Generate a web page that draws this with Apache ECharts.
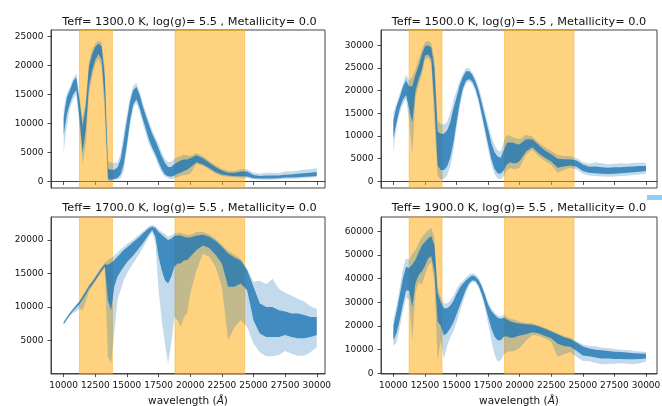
<!DOCTYPE html>
<html><head><meta charset="utf-8">
<script src="https://cdn.jsdelivr.net/npm/echarts@6/dist/echarts.min.js"></script>
<style>html,body{margin:0;padding:0;background:#fff}#c{width:662px;height:406px}</style>
</head><body><div id="c"></div>
<script>
// wavelength grid (Angstrom)
const WL = [10000,10250,10500,10750,11000,11250,11500,11750,12000,12250,12500,12750,13000,13250,13500,13750,14000,14250,14500,14750,15000,15250,15500,15750,16000,16250,16500,16750,17000,17250,17500,17750,18000,18250,18500,18750,19000,19250,19500,19750,20000,
  20500,21000,21500,22000,22500,23000,23500,24000,24500,25000,25500,26000,26500,27000,27500,28000,28500,29000,29500,30000];

// Teff 1300 K: outer envelope low/high and dense core low/high
const T1300_lo  = [5000,9500,12700,14200,15000,9500,3000,6500,15000,18000,20300,21200,19800,11500,100,50,200,350,600,1800,5500,9700,12700,13600,12000,10000,8200,6400,5200,4100,2700,1500,850,600,350,550,750,950,1100,1150,1300, 3000,2700,2000,1300,950,800,700,650,600,350,300,300,300,350,450,450,500,600,650,750];
const T1300_clo = [8000,11500,13500,15000,15800,11000,5000,9000,16500,19200,21000,22000,21000,14000,400,300,400,600,1200,3000,6500,10500,13300,14200,12700,10800,9000,7200,5800,4700,3300,2100,1200,900,800,1000,1300,1500,1800,2000,2400, 3300,2900,2300,1600,1200,1000,900,900,850,550,500,500,500,550,650,650,700,800,850,950];
const T1300_chi = [11000,14500,15800,17300,18000,14000,9500,13000,19800,22000,23200,23800,23300,18000,2200,2000,2000,2400,3800,7000,10500,13800,15800,16300,15000,13000,11300,9700,8200,7000,5700,4300,3200,2500,2500,3000,3300,3600,3800,3800,4000, 4500,4000,3200,2500,1900,1500,1500,1700,1700,1100,950,1000,1000,1000,1150,1200,1300,1400,1500,1600];
const T1300_hi  = [12500,15200,16300,17800,18700,14500,10800,14000,20700,22800,23800,24300,24000,19500,3500,3200,3200,3200,4800,8300,11500,14700,16500,17000,15500,13600,11900,10300,8800,7600,6400,5000,3900,3300,3400,3900,4200,4400,4600,4500,4400, 4900,4400,3500,2800,2200,1800,1800,2100,2100,1500,1300,1500,1500,1450,1700,1750,1850,2000,2100,2300];

// Teff 1500 K
const T1500_lo  = [6500,12000,15000,17000,18200,13500,6000,18500,21300,23500,26800,27200,26000,13000,1300,400,450,1300,3300,6800,11900,16200,19700,21600,22100,21400,19800,17300,14000,10500,7000,3700,1600,650,450,1200,2500,3000,2700,2800,3000, 5900,7000,5500,4500,3600,1900,2500,3000,2600,1700,1300,1200,1100,1000,1100,1200,1250,1400,1500,1700];
const T1500_clo = [9500,13000,16000,18000,19000,16000,13000,20000,22500,24500,27700,28000,27000,17000,3500,2500,2500,3300,5200,8500,13000,17300,20500,22200,22600,22000,20400,18000,14800,11500,8200,5000,2800,1800,1700,2500,3800,4200,4000,4000,4500, 6600,7500,6200,5200,4400,3000,3300,3500,3200,2300,1900,1800,1700,1600,1700,1800,1900,2000,2100,2300];
const T1500_chi = [13500,16500,18500,20800,22300,21000,21000,23500,25500,28000,29800,30000,29500,25000,11000,10500,10500,11200,13000,16000,18500,21200,23000,24300,24300,23500,22000,20000,17200,14300,11500,8500,6500,5500,5200,7000,8500,8600,8500,8200,8200, 9300,9300,8000,6800,6000,5000,4900,4900,4600,3700,3200,3300,3100,3000,3100,3100,3200,3300,3400,3400];
const T1500_hi  = [15000,17300,19400,21500,23500,22300,23000,24700,26800,29000,30700,31000,30500,27000,13300,12600,12600,13100,15100,17900,20000,22200,23700,25000,24900,24000,22700,20800,18200,15400,12600,10000,8000,6800,6600,8900,10200,10000,9700,9500,9300, 10300,9900,8600,7500,6700,5800,5600,5600,5100,4300,3900,4200,4000,3800,3900,4000,3900,4100,4100,4100];

// Teff 1700 K
const T1700_lo  = [7300,8000,8700,9100,9300,9800,9500,10800,12300,13000,13800,14500,15200,15900,2500,1600,6000,11000,12500,14000,15000,15800,16500,17300,18000,18800,19700,20500,21200,19500,12500,8000,4500,1500,4500,8500,8000,7000,8500,9000,12000, 15500,18000,17500,16000,13000,5000,7000,8000,7000,4500,3200,2600,2600,2800,3400,3000,2700,2700,3200,4000];
const T1700_clo = [7400,8100,8800,9400,9900,10400,11100,11800,12700,13300,14000,14700,15400,16000,11000,9500,13000,14500,15300,16000,16700,17200,17700,18300,18900,19500,20200,20900,21500,20500,17500,15500,14000,13500,14500,16000,16500,16500,17000,17000,17500, 18500,19200,18800,17800,16500,13000,13000,13500,12500,8000,6000,5500,5500,5500,5800,5500,5300,5300,5500,5800];
const T1700_chi = [7700,8400,9100,9700,10250,10800,11500,12300,13100,13700,14400,15100,15800,16400,16300,16600,17000,17500,18000,18500,18900,19300,19700,20100,20500,21000,21400,21800,22000,21800,21200,20800,20400,20000,20200,20600,20700,20700,20500,20400,20400, 20700,20800,20500,19900,19000,18000,17400,16900,15500,13000,10500,10000,10000,9500,9300,9000,9000,8800,8500,8500];
const T1700_hi  = [7800,8500,9200,9800,10350,10900,11700,12500,13300,13900,14600,15300,16000,16600,17000,17300,17700,18100,18600,19000,19400,19700,20100,20500,20900,21300,21700,22100,22300,22100,21600,21200,20900,20500,20700,21000,21100,21100,20900,20800,20800, 21200,21200,20850,20250,19300,18400,17800,17200,15700,13800,13900,13400,14200,12700,12100,11700,11200,10800,10100,9700];

// Teff 1900 K
const T1900_lo  = [11500,13000,19000,26000,32000,31000,14000,34000,38500,37500,41500,45500,47000,38000,5000,14000,6000,11500,15000,17800,21500,26000,30000,34000,37000,38700,38500,36300,32500,27500,21000,14000,8000,5000,5500,8000,9000,9300,9300,10000,10700, 13800,16200,15900,14800,13300,7000,8000,9000,7000,5200,5100,4400,3800,3900,4000,4200,4000,3800,4200,5000];
const T1900_clo = [14000,17000,22500,29000,35000,35000,28000,38000,41500,43000,45500,48500,49500,43000,22000,20000,16000,17000,19000,21500,25000,28500,32000,35500,38000,39300,39000,37000,33500,29000,24000,19000,15500,14000,14000,15500,15500,15000,15000,15500,16000, 16500,17300,16900,15800,14800,12500,11500,11200,9500,7500,7200,6700,6300,6200,6000,6000,5900,5900,6000,6200];
const T1900_chi = [20000,26000,33000,40000,45000,44500,46000,48000,51000,54000,55500,57000,58000,54000,34000,30000,27500,27500,28500,30500,33500,36000,37800,39300,40500,41300,40800,39300,36700,33000,29000,26300,24800,23500,23000,23500,22700,22000,21600,21300,21000, 20700,20500,19800,18800,17700,16500,15200,14500,13000,11300,10500,10000,9700,9400,9100,9000,8800,8500,8400,8300];
const T1900_hi  = [23000,28500,36000,44000,48500,48000,50500,52000,55000,57500,59000,60500,61500,57500,36500,32000,29500,29500,30800,32700,35500,37700,39000,40500,41800,42300,41700,40300,37600,34000,30000,27500,25700,24500,24000,24800,23800,23000,22700,22300,21800, 21300,21100,20300,19200,18100,16900,15800,15000,13500,12200,11500,11400,10800,10700,10300,10000,9800,9500,9200,9000];

const TITLES = ['Teff= 1300.0 K, log(g)= 5.5 , Metallicity= 0.0','Teff= 1500.0 K, log(g)= 5.5 , Metallicity= 0.0','Teff= 1700.0 K, log(g)= 5.5 , Metallicity= 0.0','Teff= 1900.0 K, log(g)= 5.5 , Metallicity= 0.0'];
const X_TICKS = [10000,12500,15000,17500,20000,22500,25000,27500,30000];
const Y_TICKS = [[0,5000,10000,15000,20000,25000],[0,5000,10000,15000,20000,25000,30000],[5000,10000,15000,20000],[0,10000,20000,30000,40000,50000,60000]];
const Y_RANGE = [[-1143,26150],[-1460,33380],[-50,23460],[-300,66050]];
const X_RANGE = [[9000,30650],[9020,30870],[9000,30650],[9020,30870]];
const SPANS = [[11250,13850],[18800,24300]];
const SPECTRA = [
  [T1300_lo,T1300_clo,T1300_chi,T1300_hi],
  [T1500_lo,T1500_clo,T1500_chi,T1500_hi],
  [T1700_lo,T1700_clo,T1700_chi,T1700_hi],
  [T1900_lo,T1900_clo,T1900_chi,T1900_hi]
];

const GRIDS = [
  {left:51, top:30, width:274, height:158},
  {left:381, top:30, width:276, height:158},
  {left:51, top:217, width:274, height:157},
  {left:381, top:217, width:276, height:157}
];
const FONT = 'DejaVu Sans';
const AX = '#444';
const fmt = v => String(v);

const chart = echarts.init(document.getElementById('c'), null, {renderer:'canvas'});

const grid = GRIDS.map(g => Object.assign({show:true, borderColor:AX, borderWidth:1, backgroundColor:'transparent', outerBoundsMode:'none', containLabel:false}, g));

const xAxis = GRIDS.map((g,i) => ({
  type:'value', gridIndex:i, min:X_RANGE[i][0], max:X_RANGE[i][1],
  axisLine:{show:true, lineStyle:{color:AX, width:1}},
  axisTick:{show:true, length:3.5, customValues:X_TICKS, lineStyle:{color:'#222', width:0.8}},
  axisLabel:{show:i>=2, customValues:X_TICKS, formatter:fmt, hideOverlap:false, fontSize:9, color:'#111', fontFamily:FONT, margin:7.5},
  splitLine:{show:false},
  name: i>=2 ? '{n|wavelength (}{i|Å}{n|)}' : '',
  nameLocation:'middle', nameGap:22,
  nameTextStyle:{rich:{n:{fontSize:10.5, fontFamily:FONT, color:'#111'}, i:{fontSize:10.5, fontFamily:FONT, fontStyle:'italic', color:'#111'}}}
}));

const yAxis = GRIDS.map((g,i) => ({
  type:'value', gridIndex:i, min:Y_RANGE[i][0], max:Y_RANGE[i][1],
  axisLine:{show:true, lineStyle:{color:AX, width:1}},
  axisTick:{show:true, length:3.5, customValues:Y_TICKS[i], lineStyle:{color:'#222', width:0.8}},
  axisLabel:{show:true, customValues:Y_TICKS[i], formatter:fmt, hideOverlap:false, fontSize:9, color:'#111', fontFamily:FONT, margin:7.5},
  splitLine:{show:false}
}));

// band polygon through the axis scales (api.coord)
function band(lo, hi, color) {
  return function (params, api) {
    if (params.dataIndex !== 0) return null;
    const pts = [];
    for (let k = 0; k < WL.length; k++) pts.push(api.coord([WL[k], hi[k]]));
    for (let k = WL.length - 1; k >= 0; k--) pts.push(api.coord([WL[k], lo[k]]));
    return {type:'polygon', shape:{points:pts}, style:{fill:color}};
  };
}

const series = [];
SPECTRA.forEach((sp, i) => {
  const [lo, clo, chi, hi] = sp;
  series.push({
    type:'line', xAxisIndex:i, yAxisIndex:i, z:1, data:[], silent:true, symbol:'none',
    markArea:{silent:true, itemStyle:{color:'rgba(255,165,0,0.5)', borderColor:'rgba(255,165,0,0.45)', borderWidth:1},
      data: SPANS.map(s => [{xAxis:s[0]},{xAxis:s[1]}])}
  });
  series.push({type:'custom', xAxisIndex:i, yAxisIndex:i, z:2, silent:true, clip:true,
    data: WL.map((w,k)=>[w, lo[k], hi[k]]), encode:{x:0, y:[1,2]},
    renderItem: band(lo, hi, 'rgba(31,119,180,0.27)')});
  series.push({type:'custom', xAxisIndex:i, yAxisIndex:i, z:3, silent:true, clip:true,
    data: WL.map((w,k)=>[w, clo[k], chi[k]]), encode:{x:0, y:[1,2]},
    renderItem: band(clo, chi, 'rgba(31,119,180,0.8)')});
});

const title = TITLES.map((t,i) => ({
  text:t, left: GRIDS[i].left + GRIDS[i].width/2 + (i%2===0 ? 1.5 : 0), top: i<2 ? 16.5 : 202.5, textAlign:'center',
  textStyle:{fontSize:11.3, fontWeight:'normal', fontFamily:FONT, color:'#111'}, padding:0
}));

chart.setOption({
  animation:false,
  backgroundColor:'#fff',
  title, grid, xAxis, yAxis, series,
  graphic:[{type:'rect', shape:{x:647, y:195, width:15, height:5}, style:{fill:'#8ecff5'}, silent:true}]
});
</script></body></html>
